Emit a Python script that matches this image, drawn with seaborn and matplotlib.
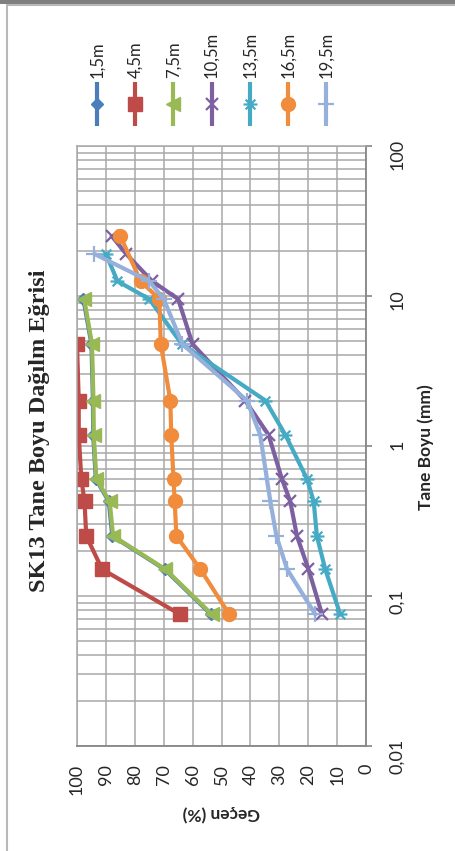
import numpy as np
import pandas as pd
import matplotlib
matplotlib.use('Agg')
import matplotlib.pyplot as plt
import seaborn as sns
from matplotlib.path import Path
from matplotlib.patches import Rectangle
from matplotlib.lines import Line2D
from matplotlib.ticker import LogLocator, NullFormatter

# elek boyutlari (mm)
sizes = [25, 19, 12.5, 9.5, 4.75, 2, 1.18, 0.6, 0.425, 0.25, 0.15, 0.075]
nan = np.nan

# gecen yuzdeler (%)
p_15 = [nan, nan, nan, 97.8, 95.0, 94.5, 94.4, 93.5, 89.0, 87.8, 69.7, 53.6]
p_45 = [nan, nan, nan, nan, 100.0, 99.4, 99.4, 98.5, 97.4, 96.8, 91.3, 64.3]
p_75 = [nan, nan, nan, 97.5, 94.8, 94.3, 94.2, 93.3, 88.7, 87.5, 69.4, 53.3]
p_105 = [88.0, 83.0, 74.0, 65.0, 60.0, 41.8, 33.7, 29.1, 26.2, 23.9, 19.9, 15.2]
p_135 = [nan, 90.0, 86.0, 75.0, 63.7, 34.8, 27.9, 20.4, 18.1, 17.0, 14.1, 8.9]
p_165 = [85.0, nan, 78.0, 71.5, 71.0, 67.7, 67.4, 66.6, 66.2, 65.6, 57.3, 47.3]
p_195 = [nan, 94.0, 75.0, 70.0, 63.5, 41.2, 36.6, 34.3, 33.1, 31.0, 27.3, 17.5]

depths = ['1,5m', '4,5m', '7,5m', '10,5m', '13,5m', '16,5m', '19,5m']
series = [p_15, p_45, p_75, p_105, p_135, p_165, p_195]

pct_ticks = [100, 90, 80, 70, 60, 50, 40, 30, 20, 10, 0]
size_ticks = [0.01, 0.1, 1, 10, 100]
size_labels = ['0,01', '0,1', '1', '10', '100']

colors = ['#4A7EBB', '#BE4B48', '#98B954', '#7D60A0', '#46AAC5', '#F08C3C', '#95B0DA']

# yildiz isareti (x + yatay cizgi)
star = Path([(-1, 0), (1, 0), (-0.7, -0.7), (0.7, 0.7), (-0.7, 0.7), (0.7, -0.7)],
            [Path.MOVETO, Path.LINETO, Path.MOVETO, Path.LINETO, Path.MOVETO, Path.LINETO])
markers = ['D', 's', '<', 'x', star, 'o', '+']
msizes = [6.5, 9.5, 10, 9, 10, 10, 11]
mews = [1, 1, 1, 1.6, 1.6, 1, 1.6]

rows = []
for d, vals in zip(depths, series):
    for s, v in zip(sizes, vals):
        rows.append({'depth': d, 'size': s, 'pct': v})
df = pd.DataFrame(rows).dropna()

sns.set_style('white')
plt.rcParams['font.family'] = ['Lato', 'DejaVu Sans']

fig = plt.figure(figsize=(4.55, 8.51), dpi=100)
ax = fig.add_axes([77 / 455, 1 - 745.7 / 851, 289 / 455, 600 / 851])
ax.set_yscale('log')

for d, c, m, ms, mw in zip(depths, colors, markers, msizes, mews):
    sub = df[df['depth'] == d]
    sns.lineplot(data=sub, x='pct', y='size', sort=False, estimator=None, ax=ax,
                 color=c, lw=3, marker=m, markersize=ms, markeredgecolor=c,
                 markeredgewidth=mw, solid_capstyle='round', solid_joinstyle='round')

ax.set_xlim(100, 0)
ax.set_ylim(0.01, 100)
ax.set_xticks(pct_ticks)
ax.set_xticklabels([str(t) for t in pct_ticks])
ax.set_yticks(size_ticks)
ax.set_yticklabels(size_labels)
ax.yaxis.set_minor_locator(LogLocator(base=10, subs=range(2, 10)))
ax.yaxis.set_minor_formatter(NullFormatter())
ax.yaxis.tick_right()
ax.set_xlabel('')
ax.set_ylabel('')
ax.grid(True, which='both', color='#a8a8a8', lw=1.1)
ax.set_axisbelow(True)
ax.tick_params(axis='x', labelrotation=90, length=0, pad=13, labelsize=13)
ax.tick_params(axis='y', which='major', labelrotation=90, length=4, width=1.2,
               color='#868686', pad=13, labelsize=13, direction='out', right=True, left=False)
ax.tick_params(axis='y', which='minor', length=0)
for sp in ['left', 'top']:
    ax.spines[sp].set_color('#a8a8a8')
    ax.spines[sp].set_linewidth(1.1)
for sp in ['right', 'bottom']:
    ax.spines[sp].set_color('#868686')
    ax.spines[sp].set_linewidth(1.3)

# basliklar
fig.text(40 / 455, 1 - 431 / 851, 'SK13 Tane Boyu Dağılm Eğrisi', rotation=90,
         ha='center', va='center', fontsize=17.5, fontweight='bold',
         family=['Liberation Serif', 'DejaVu Serif'])
fig.text(426 / 455, 1 - 447 / 851, 'Tane Boyu (mm)', rotation=90,
         ha='center', va='center', fontsize=12.5, fontweight='bold')
fig.text(221.5 / 455, 1 - 813 / 851, 'Geçen (%)', rotation=180,
         ha='center', va='center', fontsize=12.5, fontweight='bold')

# lejant (ust kisim, dikey)
lax = fig.add_axes([77.9 / 455, 1 - 126 / 851, 267.4 / 455, 44 / 851])
lax.set_xlim(-0.5, 6.5)
lax.set_ylim(0, 1)
lax.axis('off')
for i, (d, c, m, ms, mw) in enumerate(zip(depths, colors, markers, msizes, mews)):
    lax.plot([i, i, i], [0, 0.5, 1], color=c, lw=3, marker=m, markevery=[1],
             markersize=ms, markeredgecolor=c, markeredgewidth=mw,
             solid_capstyle='round')
    lax.annotate(d, (i, 1), xytext=(0, 3), textcoords='offset points',
                 rotation=90, ha='center', va='bottom', fontsize=12)

# cerceve
fig.add_artist(Rectangle((0, 1 - 4 / 851), 1, 4 / 851, transform=fig.transFigure,
                         color='#7f7f7f', lw=0))
fig.add_artist(Line2D([6.5 / 455, 6.5 / 455], [0, 1 - 5 / 851], transform=fig.transFigure,
                      color='#b8b8b8', lw=1.5))
fig.add_artist(Line2D([6.5 / 455, 1], [1 - 5 / 851, 1 - 5 / 851], transform=fig.transFigure,
                      color='#b8b8b8', lw=1.5))

fig.savefig('out.png', dpi=100)
